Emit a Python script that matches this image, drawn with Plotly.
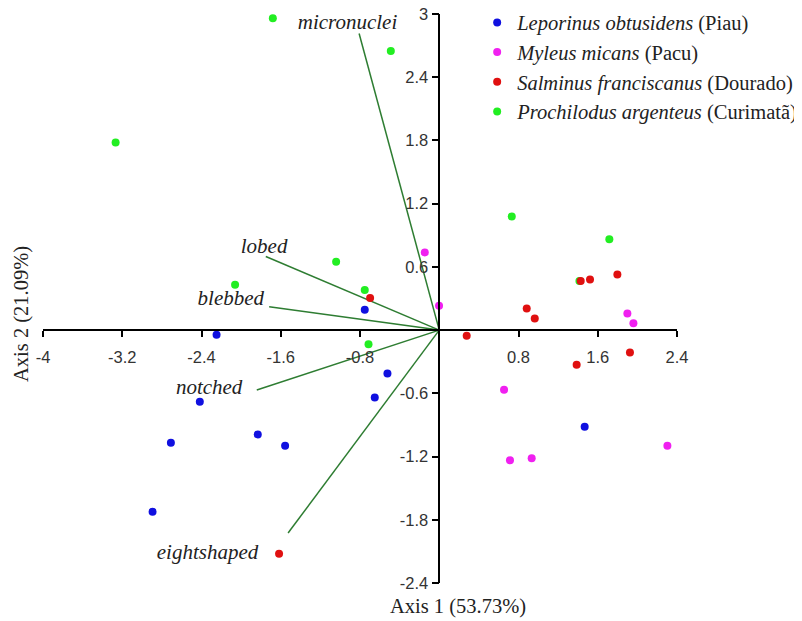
import plotly.graph_objects as go

# ---- data ----
piau_x = [-2.248, -0.752, -0.523, -0.651, -2.417, -2.709, -1.832, -1.556, -2.894, 1.468]
piau_y = [-0.045, 0.193, -0.411, -0.639, -0.680, -1.069, -0.990, -1.098, -1.724, -0.917]

pacu_x = [-0.146, -0.002, 1.899, 1.960, 0.654, 0.714, 0.933, 2.303]
pacu_y = [0.737, 0.231, 0.158, 0.064, -0.566, -1.236, -1.217, -1.098]

dourado_x = [-0.698, 0.277, 0.883, 0.964, 1.428, 1.522, 1.798, 1.925, 1.387, -1.617]
dourado_y = [0.304, -0.054, 0.206, 0.111, 0.465, 0.481, 0.528, -0.212, -0.329, -2.122]

curimata_x = [-1.680, -0.489, -3.267, -1.041, -2.061, -0.752, -0.714, 0.732, 1.717, 1.415]
curimata_y = [2.960, 2.650, 1.781, 0.648, 0.430, 0.380, -0.133, 1.079, 0.863, 0.465]

vector_names = ["micronuclei", "lobed", "blebbed", "notched", "eightshaped"]
vector_x = [-0.809, -1.751, -1.717, -1.842, -1.526]
vector_y = [2.815, 0.699, 0.221, -0.569, -1.926]
label_x = [-0.926, -1.768, -2.104, -2.323, -2.339]
label_y = [2.903, 0.785, 0.285, -0.553, -2.125]

x_ticks = [-4, -3.2, -2.4, -1.6, -0.8, 0.8, 1.6, 2.4]
y_ticks = [-2.4, -1.8, -1.2, -0.6, 0.6, 1.2, 1.8, 2.4, 3]
x_range = [-4, 2.4]
y_range = [-2.4, 3]

serif = "Liberation Serif"
sans = "Liberation Sans"

fig = go.Figure()

# vectors
vx, vy = [], []
for ex, ey in zip(vector_x, vector_y):
    vx += [0, ex, None]
    vy += [0, ey, None]
fig.add_trace(go.Scatter(x=vx, y=vy, mode="lines", line=dict(color="#2e7d32", width=1.5),
                         showlegend=False, hoverinfo="skip"))

fig.add_trace(go.Scatter(x=label_x, y=label_y, mode="text", text=[f"<i>{n}</i>" for n in vector_names],
                         textfont=dict(family=serif, size=21, color="#222222"),
                         showlegend=False, hoverinfo="skip", cliponaxis=False))

series = [
    ("<i>Prochilodus argenteus</i> (Curimatã)", curimata_x, curimata_y, "#22ee22", 4),
    ("<i>Leporinus obtusidens</i> (Piau)", piau_x, piau_y, "#1010e0", 1),
    ("<i>Myleus micans</i> (Pacu)", pacu_x, pacu_y, "#f020f0", 2),
    ("<i>Salminus franciscanus</i> (Dourado)", dourado_x, dourado_y, "#e01010", 3),
]
for name, xs, ys, col, rank in series:
    fig.add_trace(go.Scatter(x=xs, y=ys, mode="markers", name=name, legendrank=rank,
                             legendgroup=name,
                             marker=dict(color=col, size=8, line=dict(width=0)),
                             cliponaxis=False))

fig.update_layout(
    width=802, height=621,
    margin=dict(l=35, r=133, t=6, b=46, autoexpand=False),
    plot_bgcolor="white", paper_bgcolor="white",
    xaxis=dict(range=x_range, anchor="free", position=2.4 / 5.4, showgrid=False, zeroline=False,
               showline=True, linecolor="black", linewidth=1.5,
               ticks="outside", ticklen=6, tickwidth=1.5, tickcolor="black",
               tickvals=x_ticks, ticktext=[f"{v:g}" for v in x_ticks], ticklabeloverflow="allow",
               tickfont=dict(family=sans, size=16.5, color="#333333"), ticklabelstandoff=6),
    yaxis=dict(range=y_range, anchor="free", position=4 / 6.4, showgrid=False, zeroline=False,
               showline=True, linecolor="black", linewidth=1.5,
               ticks="outside", ticklen=7, tickwidth=1.5, tickcolor="black",
               tickvals=y_ticks, ticktext=[f"{v:g}" for v in y_ticks], ticklabeloverflow="allow",
               tickfont=dict(family=sans, size=16.5, color="#333333")),
    legend=dict(x=1.199, y=1.02, xanchor="right", yanchor="top", bgcolor="rgba(0,0,0,0)",
                font=dict(family=serif, size=20.5, color="#222222"), itemsizing="trace",
                tracegroupgap=0),
    showlegend=True,
    annotations=[
        dict(text="Axis 1 (53.73%)", xref="paper", yref="paper", x=0.655, y=-0.042,
             xanchor="center", yanchor="middle", showarrow=False,
             font=dict(family=serif, size=20.5, color="#222222")),
        dict(text="Axis 2 (21.09%)", xref="paper", yref="paper", x=-0.033, y=0.473,
             xanchor="center", yanchor="middle", showarrow=False, textangle=-90,
             font=dict(family=serif, size=20.5, color="#222222")),
    ],
)

fig.write_html("out.html")
